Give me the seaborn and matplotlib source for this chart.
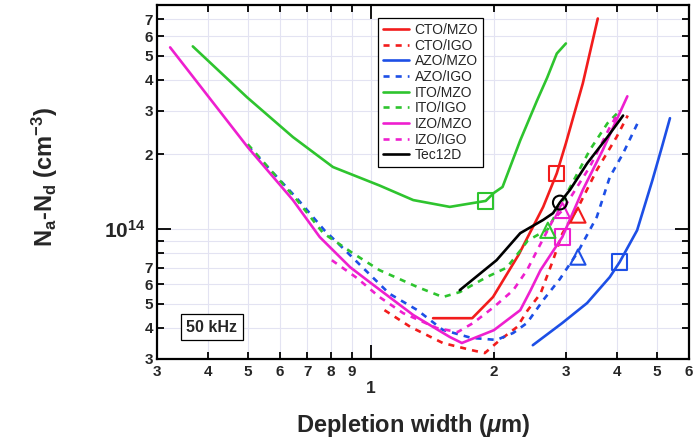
import matplotlib
matplotlib.use("Agg")
import matplotlib.pyplot as plt
import seaborn as sns
from matplotlib.ticker import FixedLocator, FixedFormatter

# Net acceptor density vs depletion width from C-V profiling at 50 kHz
# x: depletion width (um), y: Na-Nd (cm^-3)
cto_mzo_x = [1.42, 1.77, 1.99, 2.30, 2.64, 2.85, 3.00, 3.30, 3.59]
cto_mzo_y = [4.38e13, 4.38e13, 5.33e13, 7.9e13, 1.23e14, 1.68e14, 2.22e14, 3.87e14, 7.06e14]

cto_igo_x = [1.08, 1.25, 1.50, 1.76, 1.90, 2.07, 2.28, 2.42, 2.60, 2.79, 2.94, 3.21, 3.57, 3.99, 4.25]
cto_igo_y = [4.72e13, 4.04e13, 3.48e13, 3.26e13, 3.17e13, 3.58e13, 4.04e13, 4.72e13, 5.5e13,
             7.5e13, 9.6e13, 1.22e14, 1.73e14, 2.35e14, 2.87e14]

azo_mzo_x = [2.49, 2.94, 3.38, 3.84, 4.06, 4.48, 4.88, 5.15, 5.39]
azo_mzo_y = [3.41e13, 4.19e13, 5.04e13, 6.41e13, 7.37e13, 9.9e13, 1.57e14, 2.14e14, 2.8e14]

azo_igo_x = [0.50, 0.66, 0.77, 0.83, 0.956, 1.11, 1.30, 1.50, 1.76, 2.03, 2.23, 2.41, 2.64, 2.90,
             3.21, 3.57, 3.84, 4.14, 4.50]
azo_igo_y = [2.17e14, 1.33e14, 9.9e13, 8.8e13, 7.0e13, 5.5e13, 4.72e13, 3.93e13, 3.65e13, 3.58e13,
             3.82e13, 4.19e13, 5.18e13, 6.3e13, 8.1e13, 1.12e14, 1.62e14, 2.02e14, 2.69e14]

ito_mzo_x = [0.367, 0.498, 0.645, 0.808, 1.05, 1.27, 1.56, 1.91, 2.0, 2.10, 2.32, 2.55, 2.70, 2.85, 3.0]
ito_mzo_y = [5.45e14, 3.40e14, 2.35e14, 1.78e14, 1.50e14, 1.31e14, 1.23e14, 1.30e14, 1.40e14,
             1.48e14, 2.28e14, 3.3e14, 4.08e14, 5.1e14, 5.6e14]

ito_igo_x = [0.50, 0.66, 0.765, 0.904, 1.05, 1.30, 1.50, 1.65, 1.92, 2.15, 2.32, 2.42, 2.71,
             3.43, 3.79, 4.06]
ito_igo_y = [2.2e14, 1.31e14, 9.64e13, 8.0e13, 6.84e13, 5.85e13, 5.33e13, 5.58e13, 6.41e13,
             7.0e13, 8.2e13, 9.0e13, 1.0e14, 2.08e14, 2.67e14, 3.0e14]

izo_mzo_x = [0.323, 0.50, 0.645, 0.75, 0.89, 1.0, 1.27, 1.56, 1.67, 2.0, 2.32, 2.46, 2.60,
             2.94, 3.30, 3.69, 4.24]
izo_mzo_y = [5.4e14, 2.14e14, 1.31e14, 9.3e13, 7.03e13, 6.07e13, 4.51e13, 3.68e13, 3.48e13,
             3.92e13, 4.72e13, 5.68e13, 6.84e13, 9.3e13, 1.44e14, 2.08e14, 3.43e14]

izo_igo_x = [0.803, 0.925, 1.05, 1.20, 1.45, 1.63, 1.78, 2.0, 2.23, 2.41, 2.55, 2.79, 2.94,
             3.43, 3.84, 4.06]
izo_igo_y = [7.5e13, 6.36e13, 5.33e13, 4.59e13, 4.0e13, 3.85e13, 4.19e13, 4.86e13, 5.68e13,
             6.84e13, 8.2e13, 1.09e14, 1.19e14, 1.78e14, 2.57e14, 3.0e14]

tec_x = [1.65, 2.03, 2.32, 2.64, 2.79, 2.90, 3.07, 3.38, 3.79, 4.14]
tec_y = [5.68e13, 7.5e13, 9.64e13, 1.09e14, 1.16e14, 1.28e14, 1.44e14, 1.84e14, 2.35e14, 2.87e14]

labels = ["CTO/MZO", "CTO/IGO", "AZO/MZO", "AZO/IGO", "ITO/MZO", "ITO/IGO",
          "IZO/MZO", "IZO/IGO", "Tec12D"]

# Operating points marked on each profile
square_x = [2.85, 4.06, 1.91, 2.94]
square_y = [1.68e14, 7.37e13, 1.30e14, 9.3e13]
triangle_x = [3.21, 3.21, 2.71, 2.94]
triangle_y = [1.14e14, 7.72e13, 9.9e13, 1.19e14]
circle_x = [2.90]
circle_y = [1.28e14]

RED, BLUE, GREEN, MAG, BLACK = "#f21c1c", "#1d4fe6", "#2ec42e", "#ee1fcf", "#000000"
DASH = (0, (2.3, 2.3))

series = [
    (cto_mzo_x, cto_mzo_y, RED, "-"),
    (cto_igo_x, cto_igo_y, RED, DASH),
    (azo_mzo_x, azo_mzo_y, BLUE, "-"),
    (azo_igo_x, azo_igo_y, BLUE, DASH),
    (ito_mzo_x, ito_mzo_y, GREEN, "-"),
    (ito_igo_x, ito_igo_y, GREEN, DASH),
    (izo_mzo_x, izo_mzo_y, MAG, "-"),
    (izo_igo_x, izo_igo_y, MAG, DASH),
    (tec_x, tec_y, BLACK, "-"),
]

sns.set_theme(style="ticks")
plt.rcParams.update({
    "font.family": ["Liberation Sans", "DejaVu Sans"],
    "font.weight": "bold",
    "mathtext.fontset": "custom",
    "mathtext.rm": "Liberation Sans",
    "mathtext.it": "Liberation Sans:italic:bold",
    "mathtext.bf": "Liberation Sans:bold",
})

fig = plt.figure(figsize=(6.94, 4.45), dpi=100)
ax = fig.add_axes([157 / 694, 86 / 445, 532 / 694, 354 / 445])
ax.set_xscale("log")
ax.set_yscale("log")

for (xs, ys, col, ls), lab in zip(series, labels):
    sns.lineplot(x=xs, y=ys, ax=ax, color=col, linestyle=ls, linewidth=1.9,
                 label=lab, sort=False, estimator=None, legend=False)

ax.scatter(square_x, square_y, marker="s", s=120, facecolors="none",
           edgecolors=[RED, BLUE, GREEN, MAG], linewidths=1.5, zorder=5)
ax.scatter(triangle_x, triangle_y, marker="^", s=120, facecolors="none",
           edgecolors=[RED, BLUE, GREEN, MAG], linewidths=1.5, zorder=5)
ax.scatter(circle_x, circle_y, marker="o", s=100, facecolors="none",
           edgecolors=[BLACK], linewidths=1.5, zorder=5)

ax.set_xlim(0.3, 6)
ax.set_ylim(3e13, 8e14)

# log ticks: decade ticks get the long marks, the rest carry single digits
x_minor = [0.3, 0.4, 0.5, 0.6, 0.7, 0.8, 0.9, 2, 3, 4, 5, 6]
x_minor_lab = ["3", "4", "5", "6", "7", "8", "9", "2", "3", "4", "5", "6"]
y_minor = [3e13, 4e13, 5e13, 6e13, 7e13, 8e13, 9e13, 2e14, 3e14, 4e14, 5e14, 6e14, 7e14]
y_minor_lab = ["3", "4", "5", "6", "7", "", "", "2", "3", "4", "5", "6", "7"]

ax.xaxis.set_major_locator(FixedLocator([1]))
ax.xaxis.set_major_formatter(FixedFormatter(["1"]))
ax.xaxis.set_minor_locator(FixedLocator(x_minor))
ax.xaxis.set_minor_formatter(FixedFormatter(x_minor_lab))
ax.yaxis.set_major_locator(FixedLocator([1e14]))
ax.yaxis.set_major_formatter(FixedFormatter([r"$10^{14}$"]))
ax.yaxis.set_minor_locator(FixedLocator(y_minor))
ax.yaxis.set_minor_formatter(FixedFormatter(y_minor_lab))

ax.grid(True, which="both", color="#e3e3f2", linewidth=0.8)
ax.set_axisbelow(True)
ax.tick_params(which="both", direction="in", top=True, right=True, width=1.3, color="black")
ax.tick_params(which="major", length=10)
ax.tick_params(which="minor", length=5)
ax.tick_params(axis="x", which="minor", labelsize=11, pad=4)
ax.tick_params(axis="x", which="major", labelsize=12.5, pad=16)
ax.tick_params(axis="y", which="minor", labelsize=11, pad=3)
ax.tick_params(axis="y", which="major", labelsize=15, pad=8)
for sp in ax.spines.values():
    sp.set_linewidth(1.6)
    sp.set_color("black")

ax.set_xlabel(r"Depletion width ($\mu$m)", fontsize=17, fontweight="bold")
ax.xaxis.set_label_coords(0.481, -0.150)
ax.set_ylabel(r"N$_\mathbf{a}$-N$_\mathbf{d}$ (cm$^\mathbf{-3}$)", fontsize=17, fontweight="bold")
ax.yaxis.set_label_coords(-0.182, 0.514)

leg = ax.legend(loc="upper left", bbox_to_anchor=(0.415, 0.963), frameon=True, fancybox=False,
                edgecolor="black", framealpha=1, prop={"size": 10, "weight": "normal"},
                labelspacing=0.12, handlelength=1.9, handletextpad=0.4, borderpad=0.35,
                borderaxespad=0)
leg.get_frame().set_linewidth(0.9)

ax.text(0.103, 0.09, "50 kHz", transform=ax.transAxes, ha="center", va="center",
        fontsize=11.5, fontweight="bold",
        bbox=dict(boxstyle="square,pad=0.35", fc="white", ec="black", lw=0.9))

fig.savefig("out.png", dpi=100)
